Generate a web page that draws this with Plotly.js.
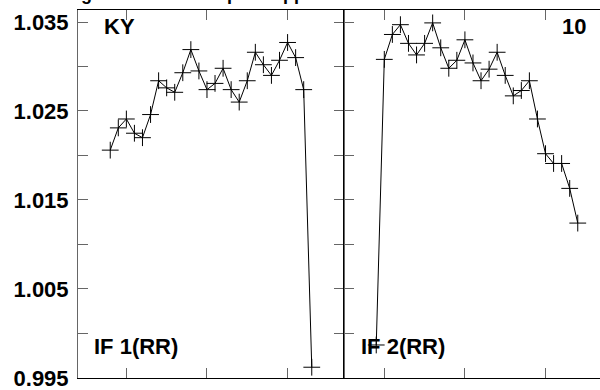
<!DOCTYPE html>
<html>
<head>
<meta charset="utf-8">
<script src="https://cdn.plot.ly/plotly-3.0.1.min.js"></script>
<style>
  html, body { margin: 0; padding: 0; overflow: hidden; background: #fff; }
  #chart { width: 620px; height: 390px; }
</style>
</head>
<body>
<div id="chart"></div>
<script>
// Left panel (IF 1, KY)
const xLeft = [1,2,3,4,5,6,7,8,9,10,11,12,13,14,15,16,17,18,19,20,21,22,23,24,25,26];
const yLeft = [1.0206,1.0231,1.0241,1.0225,1.0220,1.0246,1.0284,1.0276,1.0271,1.0293,
               1.0319,1.0295,1.0274,1.0281,1.0298,1.0274,1.0260,1.0284,1.0316,1.0302,
               1.0290,1.0307,1.0327,1.0310,1.0274,0.9962];
// Right panel (IF 2, 10)
const xRight = [2,3,4,5,6,7,8,9,10,11,12,13,14,15,16,17,18,19,20,21,22,23,24,25,26,27];
const yRight = [0.9987,1.0308,1.0336,1.0347,1.0326,1.0313,1.0326,1.0349,1.0321,1.0298,
                1.0307,1.0330,1.0304,1.0284,1.0297,1.0316,1.0290,1.0267,1.0273,1.0284,
                1.0241,1.0202,1.0191,1.0191,1.0163,1.0124];
const yTickVals = [0.995,1.000,1.005,1.010,1.015,1.020,1.025,1.030,1.035];
const yTickText = ['0.995','','1.005','','1.015','','1.025','','1.035'];
const xTickVals = [3,13,23];
const panelLabels = {leftTop:'KY', rightTop:'10', leftBottom:'IF 1(RR)', rightBottom:'IF 2(RR)'};
const titleText = 'Relative gain curve with space applied';

const FONT = '"Liberation Sans", Arial, Helvetica, sans-serif';
const lineCol = '#666';

const traceStyle = {
  mode: 'lines+markers',
  line: {color: '#000', width: 1},
  marker: {symbol: 'cross-thin-open', size: 12, line: {color: '#000', width: 1}},
  showlegend: false,
  hoverinfo: 'skip'
};

const data = [
  Object.assign({x: xLeft, y: yLeft, xaxis: 'x', yaxis: 'y'}, traceStyle),
  Object.assign({x: xRight, y: yRight, xaxis: 'x2', yaxis: 'y2'}, traceStyle)
];

const yRange = [0.99499, 1.03635];
const xaxisBase = {
  tickmode: 'array', tickvals: xTickVals, showticklabels: false,
  ticks: 'inside', ticklen: 10, tickcolor: lineCol, tickwidth: 1,
  showline: true, linecolor: '#000', linewidth: 1, mirror: 'ticks',
  showgrid: false, zeroline: false, fixedrange: true
};
const yaxisBase = {
  range: yRange, tickmode: 'array', tickvals: yTickVals,
  ticks: 'inside', ticklen: 10, tickcolor: lineCol, tickwidth: 1,
  showline: true, linewidth: 1, mirror: 'ticks',
  showgrid: false, zeroline: false, fixedrange: true
};

const layout = {
  width: 620, height: 390,
  margin: {l: 78, r: 10, t: 10, b: 12},
  paper_bgcolor: '#fff', plot_bgcolor: '#fff',
  font: {family: FONT, color: '#000'},
  xaxis: Object.assign({}, xaxisBase, {domain: [0, 0.5], range: [-3, 30]}),
  xaxis2: Object.assign({}, xaxisBase, {domain: [0.5, 1], range: [-2, 31], anchor: 'y2'}),
  yaxis: Object.assign({}, yaxisBase, {
    ticktext: yTickText, linecolor: lineCol, ticklabelstandoff: 4,
    ticklabeloverflow: 'allow',
    tickfont: {family: FONT, size: 22, weight: 'bold', color: '#000'}
  }),
  yaxis2: Object.assign({}, yaxisBase, {anchor: 'x2', showticklabels: false, linecolor: '#000'}),
  annotations: [
    {text: panelLabels.leftTop, xref: 'x domain', yref: 'y domain', x: 0.09, y: 0.955,
     xanchor: 'left', yanchor: 'middle', showarrow: false,
     font: {family: FONT, size: 22, weight: 'bold', color: '#000'}},
    {text: panelLabels.rightTop, xref: 'x2 domain', yref: 'y2 domain', x: 0.917, y: 0.955,
     xanchor: 'right', yanchor: 'middle', showarrow: false,
     font: {family: FONT, size: 22, weight: 'bold', color: '#000'}},
    {text: panelLabels.leftBottom, xref: 'x domain', yref: 'y domain', x: 0.052, y: 0.085,
     xanchor: 'left', yanchor: 'middle', showarrow: false,
     font: {family: FONT, size: 22, weight: 'bold', color: '#000'}},
    {text: panelLabels.rightBottom, xref: 'x2 domain', yref: 'y2 domain', x: 0.055, y: 0.085,
     xanchor: 'left', yanchor: 'middle', showarrow: false,
     font: {family: FONT, size: 22, weight: 'bold', color: '#000'}},
    {text: titleText, xref: 'paper', yref: 'paper', x: -0.137, y: 1.012,
     xanchor: 'left', yanchor: 'bottom', showarrow: false,
     font: {family: FONT, size: 18, weight: 'bold', color: '#000'}}
  ]
};

Plotly.newPlot('chart', data, layout, {staticPlot: true, displayModeBar: false});
</script>
</body>
</html>
